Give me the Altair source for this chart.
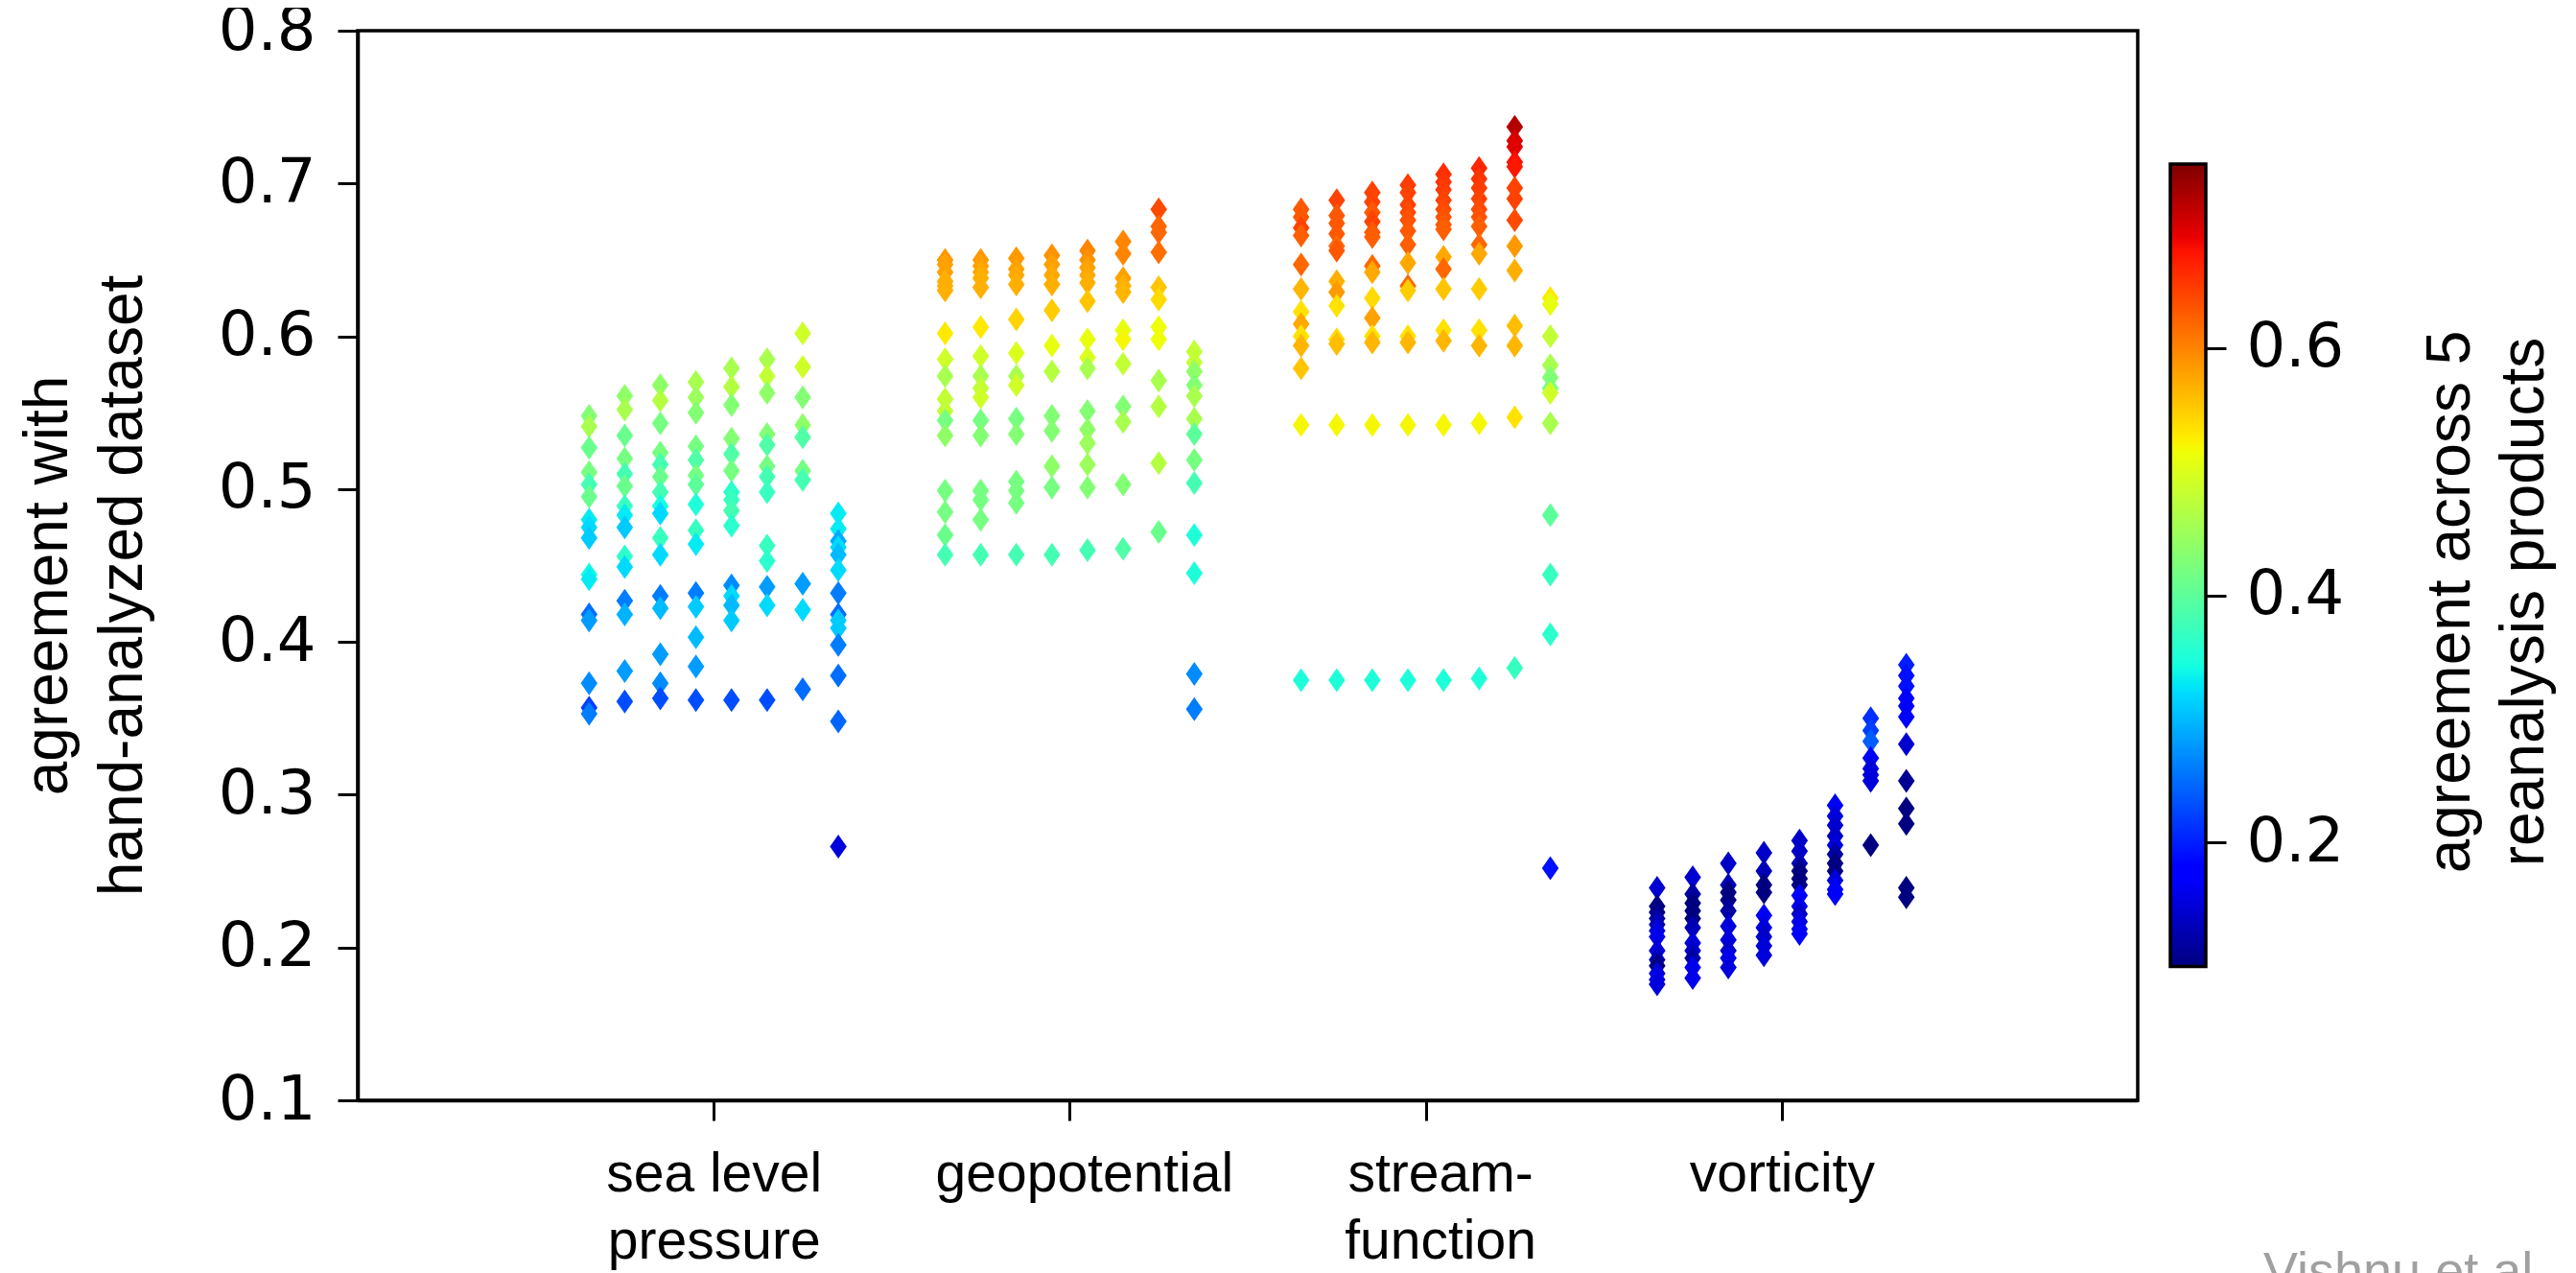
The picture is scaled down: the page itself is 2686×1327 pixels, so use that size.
import json
import altair as alt
import pandas as pd

# ---------------- data ----------------
group_names = ["sea level pressure", "geopotential", "streamfunction", "vorticity"]
tick_label_lines = [["sea level", "pressure"], ["geopotential"], ["stream-", "function"], ["vorticity"]]
column_offsets = [-0.35, -0.25, -0.15, -0.05, 0.05, 0.15, 0.25, 0.35]

# y = agreement with hand-analyzed dataset, c = agreement across 5 reanalysis products
slp_y = [
    [0.548, 0.541, 0.527, 0.511, 0.503, 0.495, 0.480, 0.475, 0.468, 0.444, 0.441, 0.418, 0.414, 0.373, 0.357, 0.353],
    [0.561, 0.552, 0.535, 0.520, 0.510, 0.502, 0.489, 0.483, 0.475, 0.456, 0.449, 0.427, 0.418, 0.381, 0.361],
    [0.568, 0.558, 0.543, 0.524, 0.516, 0.508, 0.498, 0.489, 0.484, 0.468, 0.457, 0.430, 0.422, 0.392, 0.373, 0.363],
    [0.570, 0.560, 0.550, 0.528, 0.519, 0.509, 0.503, 0.490, 0.473, 0.464, 0.432, 0.423, 0.403, 0.384, 0.362],
    [0.579, 0.567, 0.555, 0.533, 0.523, 0.512, 0.498, 0.493, 0.486, 0.476, 0.437, 0.430, 0.424, 0.414, 0.362],
    [0.585, 0.574, 0.563, 0.536, 0.529, 0.515, 0.508, 0.498, 0.463, 0.453, 0.436, 0.424, 0.362],
    [0.602, 0.580, 0.560, 0.542, 0.534, 0.512, 0.506, 0.438, 0.421, 0.369],
    [0.484, 0.474, 0.466, 0.462, 0.457, 0.447, 0.432, 0.418, 0.414, 0.409, 0.398, 0.378, 0.348, 0.266],
]
slp_c = [
    [0.43, 0.46, 0.41, 0.42, 0.38, 0.41, 0.33, 0.32, 0.31, 0.34, 0.33, 0.25, 0.28, 0.27, 0.22, 0.26],
    [0.44, 0.46, 0.41, 0.42, 0.38, 0.41, 0.37, 0.33, 0.31, 0.36, 0.32, 0.26, 0.295, 0.28, 0.23],
    [0.44, 0.47, 0.42, 0.42, 0.38, 0.41, 0.38, 0.345, 0.32, 0.37, 0.32, 0.26, 0.30, 0.28, 0.27, 0.23],
    [0.46, 0.45, 0.43, 0.42, 0.39, 0.42, 0.40, 0.35, 0.37, 0.33, 0.26, 0.31, 0.30, 0.28, 0.23],
    [0.46, 0.47, 0.43, 0.43, 0.39, 0.42, 0.36, 0.37, 0.38, 0.36, 0.27, 0.32, 0.30, 0.31, 0.23],
    [0.46, 0.48, 0.44, 0.43, 0.39, 0.42, 0.38, 0.37, 0.37, 0.36, 0.28, 0.32, 0.23],
    [0.49, 0.49, 0.43, 0.44, 0.39, 0.42, 0.38, 0.28, 0.32, 0.25],
    [0.33, 0.33, 0.29, 0.32, 0.30, 0.32, 0.26, 0.25, 0.31, 0.31, 0.26, 0.25, 0.245, 0.15],
]

geo_y = [
    [0.650, 0.647, 0.642, 0.636, 0.633, 0.630, 0.602, 0.585, 0.574, 0.559, 0.551, 0.545, 0.535, 0.499, 0.485, 0.470, 0.457],
    [0.650, 0.646, 0.642, 0.638, 0.632, 0.606, 0.587, 0.574, 0.566, 0.560, 0.545, 0.535, 0.499, 0.493, 0.480, 0.457],
    [0.651, 0.644, 0.640, 0.634, 0.611, 0.589, 0.574, 0.568, 0.546, 0.536, 0.505, 0.499, 0.491, 0.457],
    [0.653, 0.647, 0.640, 0.634, 0.617, 0.594, 0.577, 0.548, 0.538, 0.515, 0.501, 0.457],
    [0.656, 0.650, 0.645, 0.640, 0.635, 0.623, 0.598, 0.586, 0.579, 0.551, 0.539, 0.530, 0.516, 0.501, 0.460],
    [0.662, 0.654, 0.638, 0.633, 0.629, 0.604, 0.598, 0.582, 0.554, 0.544, 0.503, 0.461],
    [0.683, 0.672, 0.668, 0.655, 0.632, 0.624, 0.606, 0.598, 0.571, 0.554, 0.517, 0.472],
    [0.590, 0.583, 0.577, 0.568, 0.561, 0.546, 0.536, 0.519, 0.504, 0.470, 0.445, 0.379, 0.356],
]
geo_c = [
    [0.585, 0.58, 0.58, 0.57, 0.57, 0.57, 0.53, 0.49, 0.46, 0.48, 0.48, 0.42, 0.44, 0.42, 0.42, 0.41, 0.38],
    [0.585, 0.58, 0.575, 0.57, 0.57, 0.53, 0.49, 0.46, 0.48, 0.49, 0.42, 0.43, 0.42, 0.42, 0.42, 0.38],
    [0.585, 0.58, 0.575, 0.57, 0.545, 0.50, 0.46, 0.49, 0.42, 0.43, 0.42, 0.42, 0.42, 0.38],
    [0.59, 0.58, 0.575, 0.57, 0.55, 0.51, 0.47, 0.43, 0.43, 0.44, 0.42, 0.38],
    [0.60, 0.59, 0.58, 0.575, 0.57, 0.555, 0.51, 0.50, 0.46, 0.43, 0.44, 0.45, 0.45, 0.43, 0.38],
    [0.60, 0.60, 0.58, 0.57, 0.565, 0.51, 0.52, 0.48, 0.43, 0.46, 0.43, 0.39],
    [0.64, 0.62, 0.62, 0.615, 0.555, 0.54, 0.515, 0.515, 0.46, 0.47, 0.47, 0.41],
    [0.48, 0.48, 0.44, 0.43, 0.46, 0.46, 0.40, 0.42, 0.38, 0.35, 0.35, 0.27, 0.26],
]

sf_y = [
    [0.683, 0.678, 0.671, 0.666, 0.647, 0.631, 0.616, 0.608, 0.600, 0.594, 0.579, 0.542, 0.375],
    [0.689, 0.679, 0.674, 0.667, 0.659, 0.656, 0.636, 0.629, 0.620, 0.598, 0.595, 0.542, 0.375],
    [0.694, 0.688, 0.681, 0.675, 0.668, 0.665, 0.646, 0.642, 0.625, 0.612, 0.600, 0.596, 0.542, 0.375],
    [0.699, 0.694, 0.686, 0.681, 0.676, 0.669, 0.660, 0.648, 0.633, 0.630, 0.600, 0.596, 0.542, 0.375],
    [0.706, 0.701, 0.696, 0.689, 0.683, 0.678, 0.673, 0.670, 0.652, 0.644, 0.631, 0.604, 0.597, 0.542, 0.375],
    [0.710, 0.703, 0.697, 0.690, 0.683, 0.678, 0.672, 0.660, 0.654, 0.631, 0.604, 0.594, 0.543, 0.376],
    [0.737, 0.728, 0.724, 0.714, 0.711, 0.697, 0.690, 0.676, 0.659, 0.643, 0.607, 0.594, 0.547, 0.383],
    [0.625, 0.621, 0.600, 0.581, 0.573, 0.566, 0.563, 0.543, 0.483, 0.444, 0.405, 0.252],
]
sf_c = [
    [0.63, 0.63, 0.645, 0.625, 0.62, 0.565, 0.535, 0.575, 0.535, 0.565, 0.555, 0.52, 0.35],
    [0.645, 0.63, 0.63, 0.63, 0.62, 0.63, 0.57, 0.585, 0.535, 0.54, 0.56, 0.52, 0.35],
    [0.645, 0.645, 0.63, 0.645, 0.63, 0.625, 0.62, 0.575, 0.54, 0.58, 0.535, 0.565, 0.52, 0.35],
    [0.65, 0.645, 0.645, 0.64, 0.635, 0.63, 0.625, 0.575, 0.62, 0.55, 0.535, 0.565, 0.52, 0.35],
    [0.66, 0.655, 0.65, 0.645, 0.64, 0.635, 0.63, 0.625, 0.575, 0.62, 0.555, 0.535, 0.565, 0.52, 0.35],
    [0.665, 0.655, 0.65, 0.645, 0.64, 0.635, 0.625, 0.62, 0.575, 0.55, 0.535, 0.565, 0.52, 0.35],
    [0.72, 0.70, 0.695, 0.68, 0.675, 0.645, 0.645, 0.64, 0.585, 0.57, 0.56, 0.565, 0.535, 0.37],
    [0.53, 0.51, 0.48, 0.46, 0.43, 0.42, 0.49, 0.46, 0.40, 0.37, 0.36, 0.19],
]

vort_y = [
    [0.239, 0.227, 0.223, 0.219, 0.215, 0.211, 0.207, 0.198, 0.192, 0.188, 0.183, 0.179, 0.176],
    [0.246, 0.235, 0.229, 0.224, 0.219, 0.213, 0.203, 0.198, 0.193, 0.187, 0.180],
    [0.255, 0.241, 0.236, 0.231, 0.224, 0.214, 0.205, 0.198, 0.193, 0.187],
    [0.262, 0.250, 0.241, 0.236, 0.221, 0.213, 0.207, 0.201, 0.195],
    [0.270, 0.263, 0.255, 0.250, 0.245, 0.241, 0.234, 0.227, 0.222, 0.217, 0.212, 0.209],
    [0.293, 0.286, 0.280, 0.273, 0.267, 0.261, 0.255, 0.250, 0.244, 0.238, 0.235],
    [0.350, 0.342, 0.335, 0.324, 0.317, 0.313, 0.309, 0.267],
    [0.385, 0.378, 0.371, 0.363, 0.358, 0.351, 0.333, 0.309, 0.291, 0.281, 0.239, 0.233],
]
vort_c = [
    [0.145, 0.10, 0.10, 0.12, 0.13, 0.15, 0.16, 0.15, 0.13, 0.10, 0.15, 0.16, 0.15],
    [0.145, 0.12, 0.10, 0.10, 0.10, 0.13, 0.15, 0.14, 0.12, 0.16, 0.16],
    [0.14, 0.13, 0.10, 0.10, 0.12, 0.15, 0.15, 0.14, 0.16, 0.15],
    [0.14, 0.13, 0.10, 0.10, 0.165, 0.15, 0.14, 0.15, 0.15],
    [0.14, 0.14, 0.13, 0.10, 0.10, 0.10, 0.17, 0.16, 0.14, 0.155, 0.16, 0.17],
    [0.165, 0.15, 0.145, 0.14, 0.15, 0.12, 0.10, 0.10, 0.15, 0.17, 0.17],
    [0.21, 0.22, 0.24, 0.17, 0.15, 0.15, 0.15, 0.10],
    [0.20, 0.19, 0.19, 0.175, 0.17, 0.17, 0.145, 0.11, 0.10, 0.10, 0.10, 0.10],
]

# colour bar range (min / max of the colour variable)
cbar_min, cbar_max = 0.0995, 0.749
cbar_ticks = [0.2, 0.4, 0.6]
y_ticks = [0.1, 0.2, 0.3, 0.4, 0.5, 0.6, 0.7, 0.8]

# jet colormap stops
jet_stops = [0.0, 0.11, 0.125, 0.34, 0.35, 0.375, 0.64, 0.65, 0.66, 0.89, 0.91, 1.0]
jet_colors = ["#000080", "#0000ff", "#0000ff", "#00dbff", "#00e6f7", "#15ffe2",
              "#eeff08", "#f7f600", "#ffec00", "#ff1300", "#e80000", "#800000"]

# ---------------- build table ----------------
rows = []
for gi, (ys, cs) in enumerate([(slp_y, slp_c), (geo_y, geo_c), (sf_y, sf_c), (vort_y, vort_c)]):
    for k, (yl, cl) in enumerate(zip(ys, cs)):
        for yv, cv in zip(yl, cl):
            rows.append({"group": group_names[gi], "x": gi + 1 + column_offsets[k], "y": yv, "c": cv})
df = pd.DataFrame(rows)

color_domain = [cbar_min + t * (cbar_max - cbar_min) for t in jet_stops]

W, H = 1856, 1115
PAD_L, PAD_T = 365, 24
TOTAL_W, TOTAL_H = 2660, 1319

label_expr = " : ".join(
    f"datum.value == {i + 1} ? {json.dumps(lines)}" for i, lines in enumerate(tick_label_lines)
) + " : ''"

NUM_FONT = "DejaVu Sans"
TXT_FONT = "Liberation Sans"

diamond = "M0,-1L0.7,0L0,1L-0.7,0Z"

points = alt.Chart(df).mark_point(
    filled=True, shape=diamond, size=625, opacity=1, strokeWidth=0
).encode(
    x=alt.X("x:Q",
            scale=alt.Scale(domain=[0, 5], nice=False, zero=False),
            axis=alt.Axis(values=[1, 2, 3, 4], labelExpr=label_expr, title=None,
                          labelFont=TXT_FONT, labelFontSize=57, labelLineHeight=70,
                          labelPadding=28, labelAngle=0, labelLimit=0,
                          labelOffset={"condition": {"test": "datum.value == 2 || datum.value == 3",
                                                     "value": 15},
                                       "value": 0})),
    y=alt.Y("y:Q",
            scale=alt.Scale(domain=[0.1, 0.8], nice=False, zero=False),
            axis=alt.Axis(values=y_ticks, format=".1f", orient="left",
                          labelFont=NUM_FONT, labelFontSize=64, labelPadding=23,
                          title=["agreement with", "hand-analyzed dataset"],
                          titleFont=TXT_FONT, titleFontSize=64, titleFontWeight="normal",
                          titleAngle=270, titleAlign="center", titleBaseline="alphabetic",
                          titleLineHeight=78, titleX=-304, titleY=578)),
    color=alt.Color("c:Q",
                    scale=alt.Scale(domain=color_domain, range=jet_colors, interpolate="rgb"),
                    legend=None),
)

gradient = alt.LinearGradient(
    gradient="linear",
    stops=[alt.GradientStop(color=c, offset=t) for t, c in zip(jet_stops, jet_colors)],
    x1=0, x2=0, y1=1, y2=0,
)

cb_df = pd.DataFrame({"lo": [cbar_min], "hi": [cbar_max]})
cbar = alt.Chart(cb_df).mark_rect(fill=gradient, stroke="black", strokeWidth=3.5).encode(
    x=alt.value(1890), x2=alt.value(1927),
    y=alt.Y("lo:Q",
            scale=alt.Scale(domain=[-0.0088, 0.857], nice=False, zero=False),
            axis=alt.Axis(orient="right", offset=71, values=cbar_ticks, format=".1f",
                          domain=False, labelFont=NUM_FONT, labelFontSize=64, labelPadding=21,
                          title=["agreement across 5", "reanalysis products"],
                          titleFont=TXT_FONT, titleFontSize=64, titleFontWeight="normal",
                          titleAngle=270, titleAlign="center", titleBaseline="alphabetic",
                          titleLineHeight=77, titleX=274, titleY=595)),
    y2="hi:Q",
)

credit = alt.Chart(pd.DataFrame({"t": ["Vishnu et al. (2020)"]})).mark_text(
    align="left", baseline="top", font=TXT_FONT, fontSize=54, color="#a0a0a0"
).encode(x=alt.value(1987), y=alt.value(1268), text="t:N")

chart = alt.layer(points, cbar, credit).resolve_scale(y="independent").properties(
    width=W, height=H,
    autosize=alt.AutoSizeParams(type="none"),
    padding={"left": PAD_L, "top": PAD_T, "right": TOTAL_W - PAD_L - W, "bottom": TOTAL_H - PAD_T - H},
).configure_view(
    stroke="black", strokeWidth=3.5
).configure_axis(
    grid=False, domainColor="black", domainWidth=3.5, tickColor="black", tickWidth=3,
    tickSize=21, labelColor="black", titleColor="black"
)

chart.save("out.html", embed_options={"renderer": "svg", "actions": False})
